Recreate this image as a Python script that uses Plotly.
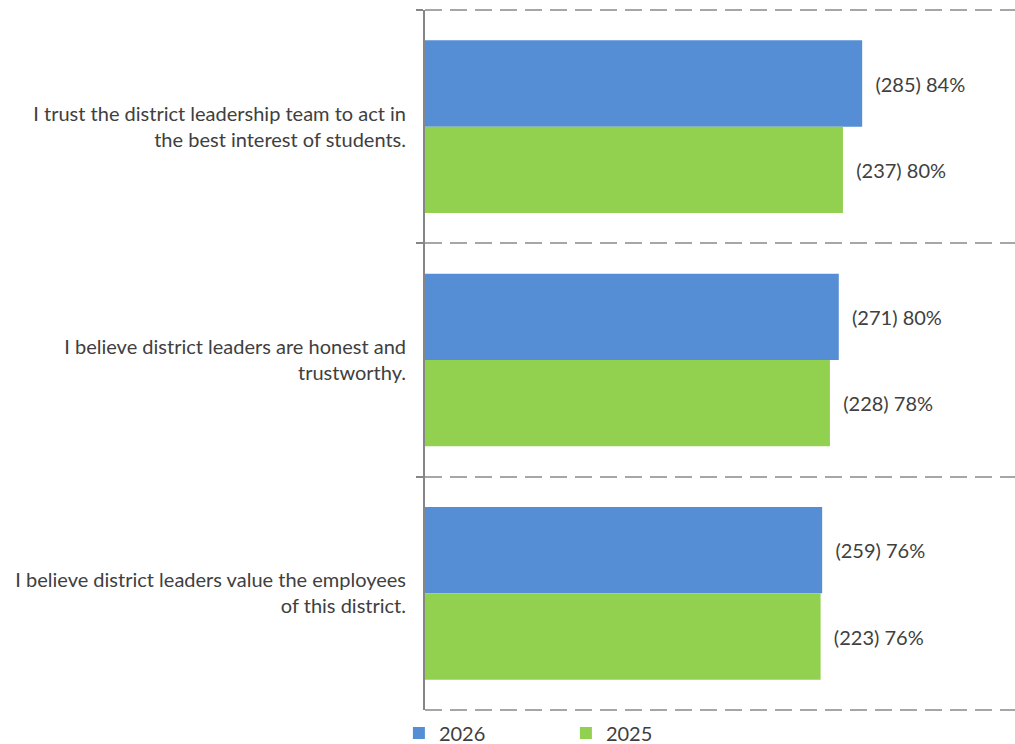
import plotly.graph_objects as go

# Survey statements (top to bottom)
statements = [
    "I trust the district leadership team to act in<br>the best interest of students.",
    "I believe district leaders are honest and<br>trustworthy.",
    "I believe district leaders value the employees<br>of this district.",
]

# Percent agreeing and response counts per year
pct_2026 = [84.1, 79.6, 76.4]
cnt_2026 = [285, 271, 259]
pct_2025 = [80.4, 77.9, 76.1]
cnt_2025 = [237, 228, 223]

BLUE = "#558ED5"
GREEN = "#92D050"
TEXT = "#404040"
GRID = "#A6A6A6"
AXIS = "#868686"
FONT = "Lato"
SIZE = 20
PAD = "\u00a0\u00a0"
DASH = "17px,8px"


def labels(counts, pcts):
    return [f"{PAD}({c}) {p:.0f}%" for c, p in zip(counts, pcts)]


fig = go.Figure()
fig.add_trace(go.Bar(
    name="2026", y=statements, x=pct_2026, orientation="h",
    marker=dict(color=BLUE, line=dict(width=0)),
    text=labels(cnt_2026, pct_2026), textposition="outside",
    textfont=dict(family=FONT, size=SIZE, color=TEXT), cliponaxis=False,
))
fig.add_trace(go.Bar(
    name="2025", y=statements, x=pct_2025, orientation="h",
    marker=dict(color=GREEN, line=dict(width=0)),
    text=labels(cnt_2025, pct_2025), textposition="outside",
    textfont=dict(family=FONT, size=SIZE, color=TEXT), cliponaxis=False,
))

# dashed boundary lines along the top and bottom edges of the plot
for edge in (0, 1):
    fig.add_shape(
        type="line", xref="paper", yref="y domain",
        x0=0, x1=1, y0=edge, y1=edge,
        line=dict(color=GRID, width=2, dash=DASH), layer="below",
    )

fig.update_layout(
    width=1015, height=744,
    margin=dict(l=425, r=0, t=10, b=34),
    paper_bgcolor="white", plot_bgcolor="white",
    barmode="group", bargap=0.26, bargroupgap=0,
    font=dict(family=FONT, size=SIZE, color=TEXT),
    showlegend=True,
    legend=dict(
        orientation="h", xref="container", x=0.393, y=0.0148, yref="container",
        xanchor="left", yanchor="middle",
        entrywidth=122, entrywidthmode="pixels",
        font=dict(family=FONT, size=SIZE, color=TEXT),
        bgcolor="rgba(0,0,0,0)",
    ),
    xaxis=dict(
        range=[0, 113.5], showgrid=False, zeroline=False,
        showticklabels=False, ticks="", showline=False,
    ),
    yaxis=dict(
        autorange="reversed", tickson="boundaries",
        ticks="outside", ticklen=7, tickwidth=2, tickcolor=AXIS,
        showline=True, linecolor=AXIS, linewidth=2,
        showgrid=True, gridcolor=GRID, gridwidth=2, griddash=DASH,
        ticklabelstandoff=13,
        tickfont=dict(family=FONT, size=SIZE, color=TEXT),
    ),
)

fig.write_html("out.html")
